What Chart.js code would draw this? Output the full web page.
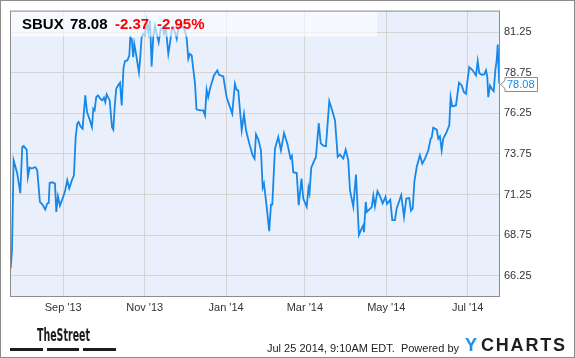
<!DOCTYPE html>
<html>
<head>
<meta charset="utf-8">
<script src="https://cdn.jsdelivr.net/npm/chart.js@4.4.1/dist/chart.umd.min.js"></script>
<style>
  html, body { margin: 0; padding: 0; background: #fff; }
  canvas { display: block; }
</style>
</head>
<body>
<canvas id="chart" width="575" height="358"></canvas>
<script>
// SBUX daily close, Jul 2013 - Jul 25 2014. x = days after Sep 1 2013
const days = [
  -39.4, -38.4, -37.2, -34.5, -32.2, -30.7, -29.7, -27.4, -26.5, -25.2, -23.5, -21.0, -19.5, -17.5, -15.7, -13.5,
  -12.0, -10.9, -10.2, -8.2, -6.2, -5.2, -4.0, -2.5, -0.2, 1.5, 3.0, 4.5, 6.5, 8.0, 9.3, 10.5,
  11.5, 13.0, 14.5, 16.5, 17.8, 20.0, 21.5, 22.5, 23.5, 24.7, 26.0, 27.7, 29.2, 30.5, 31.5, 32.5,
  34.8, 36.5, 37.5, 38.5, 39.7, 41.0, 42.5, 43.8, 45.1, 46.2, 48.0, 49.5, 50.2, 51.3, 52.4, 53.2,
  54.5, 56.7, 57.5, 58.7, 59.9, 61.2, 62.5, 63.7, 65.0, 66.2, 67.4, 68.7, 70.0, 71.5, 73.0, 74.5,
  75.4, 76.9, 78.7, 79.9, 81.2, 82.4, 83.7, 85.0, 86.2, 88.0, 89.5, 91.2, 92.5, 93.7, 94.9, 96.2,
  98.7, 99.8, 102.4, 104.9, 106.2, 107.4, 108.6, 109.9, 112.9, 115.4, 116.7, 119.9, 122.4, 126.6, 128.6, 129.9,
  131.1, 133.7, 135.4, 136.9, 139.4, 141.9, 143.3, 144.4, 146.1, 148.1, 149.4, 150.4, 152.4, 154.3, 155.6, 156.6,
  158.6, 161.1, 163.1, 165.4, 168.0, 170.2, 171.3, 172.3, 174.9, 176.4, 178.5, 179.8, 182.4, 183.7, 184.5, 185.8,
  187.3, 189.3, 191.4, 192.9, 194.8, 196.8, 199.3, 201.1, 203.6, 205.6, 207.3, 209.8, 211.6, 213.5, 214.8, 217.3,
  219.3, 221.5, 223.6, 224.8, 225.3, 226.6, 227.5, 231.1, 232.3, 233.5, 235.4, 237.3, 239.3, 241.4, 242.5, 245.0,
  246.5, 248.5, 249.8, 253.2, 255.3, 257.0, 259.2, 260.5, 261.8, 263.1, 264.8, 267.2, 269.0, 271.0, 273.5, 275.3,
  276.0, 277.2, 279.8, 281.0, 282.2, 283.5, 284.7, 287.2, 289.2, 290.2, 291.4, 294.2, 296.5, 298.5, 300.2, 301.7,
  302.7, 304.2, 306.7, 309.2, 310.5, 311.7, 313.5, 315.4, 316.7, 317.7, 318.4, 319.7, 321.0, 322.5, 323.7, 324.7,
  325.5, 326.6
];
const prices = [
  66.70, 67.83, 73.36, 72.56, 71.33, 74.17, 74.23, 74.01, 72.33, 72.91, 72.85, 72.94, 72.74, 70.79, 70.65, 70.33,
  70.70, 70.73, 71.96, 72.00, 71.92, 70.18, 71.14, 70.57, 71.07, 71.51, 72.13, 71.62, 72.13, 72.43, 74.79, 75.61,
  75.71, 75.44, 75.30, 77.35, 76.32, 75.81, 75.40, 76.53, 76.43, 77.24, 77.35, 77.15, 77.04, 77.21, 76.94, 77.41,
  77.04, 75.40, 75.24, 76.63, 77.76, 77.96, 78.13, 76.73, 79.01, 79.46, 79.50, 79.81, 80.93, 80.83, 79.70, 80.53,
  79.91, 78.76, 79.50, 80.93, 81.14, 81.04, 81.96, 81.24, 81.96, 79.13, 80.93, 81.65, 81.14, 80.62, 81.45, 81.54,
  81.14, 81.45, 79.91, 80.53, 81.34, 81.54, 81.24, 80.83, 81.45, 81.75, 81.54, 81.34, 80.83, 79.60, 79.91, 79.81,
  78.09, 76.49, 76.43, 76.43, 76.12, 77.70, 77.24, 77.76, 78.58, 78.89, 78.62, 78.52, 77.24, 76.23, 78.07, 77.69,
  77.66, 75.20, 76.21, 75.20, 74.38, 73.66, 73.46, 74.95, 74.65, 73.97, 71.67, 71.92, 70.49, 68.99, 70.62, 70.62,
  74.07, 74.79, 73.97, 75.03, 74.34, 73.48, 73.63, 72.62, 72.57, 70.59, 72.23, 71.00, 70.49, 71.65, 71.33, 72.90,
  73.20, 73.56, 75.65, 74.40, 74.25, 74.22, 76.99, 76.53, 75.81, 73.56, 73.71, 73.46, 74.01, 73.36, 71.51, 70.49,
  72.48, 68.75, 69.16, 69.36, 68.93, 70.79, 70.18, 70.47, 71.18, 70.53, 71.46, 71.14, 70.70, 71.10, 70.67, 70.92,
  69.67, 69.67, 70.39, 71.21, 69.87, 71.00, 71.03, 70.25, 70.39, 72.07, 72.94, 73.66, 73.15, 73.46, 73.97, 74.69,
  74.75, 75.36, 75.24, 74.69, 74.83, 73.97, 74.69, 75.09, 75.51, 77.24, 76.67, 76.73, 78.13, 77.96, 77.55, 77.45,
  78.17, 79.09, 78.89, 78.58, 79.46, 78.72, 78.62, 78.64, 78.89, 78.47, 77.24, 77.96, 77.76, 77.61, 78.89, 79.50,
  80.48, 78.08
];

const xTickDays = [0, 61, 122, 181, 242, 303];
const xTickLabels = ["Sep '13", "Nov '13", "Jan '14", "Mar '14", "May '14", "Jul '14"];
const yTicks = [66.25, 68.75, 71.25, 73.75, 76.25, 78.75, 81.25];

const symbol = "SBUX";
const lastPrice = 78.08;
const change = -2.37;
const changePct = -2.95;
const stampText = "Jul 25 2014, 9:10AM EDT.  Powered by";

const FONT = '"Liberation Sans", Arial, sans-serif';
const LINE_BLUE = "#1787e8";
const FRAME = "#8c8c8c";

const decor = {
  id: "decor",
  beforeDraw(chart) {
    const { ctx, chartArea: a } = chart;
    ctx.save();
    ctx.fillStyle = "#fff";
    ctx.fillRect(0, 0, chart.width, chart.height);
    ctx.fillStyle = "#e9f0fb";
    ctx.fillRect(a.left, a.top, a.right - a.left, a.bottom - a.top);
    ctx.restore();
  },
  afterDatasetsDraw(chart) {
    const { ctx, chartArea: a } = chart;
    ctx.save();
    // header box over the plot
    ctx.fillStyle = "rgba(255,255,255,0.6)";
    ctx.fillRect(a.left + 1, a.top + 1, 366, 25);
    ctx.font = "bold 15px " + FONT;
    ctx.textBaseline = "alphabetic";
    ctx.fillStyle = "#000";
    ctx.fillText(symbol, 22, 29);
    ctx.fillText(lastPrice.toFixed(2), 70, 29);
    ctx.fillStyle = "#f00";
    ctx.fillText(change.toFixed(2), 115, 29);
    ctx.fillText(changePct.toFixed(2) + "%", 157, 29);
    // plot frame
    ctx.strokeStyle = FRAME;
    ctx.lineWidth = 1;
    ctx.strokeRect(a.left + 0.5, a.top + 0.5, a.right - a.left - 1, a.bottom - a.top);
    ctx.restore();
  },
  afterDraw(chart) {
    const { ctx, chartArea: a } = chart;
    const y = chart.scales.y;
    ctx.save();

    // last value flag
    const py = Math.round(y.getPixelForValue(lastPrice)) + 0.5;
    ctx.beginPath();
    ctx.moveTo(a.right + 0.5, py);
    ctx.lineTo(a.right + 5, py - 4);
    ctx.lineTo(a.right + 5, py - 7);
    ctx.lineTo(a.right + 37.5, py - 7);
    ctx.lineTo(a.right + 37.5, py + 7);
    ctx.lineTo(a.right + 5, py + 7);
    ctx.lineTo(a.right + 5, py + 4);
    ctx.closePath();
    ctx.fillStyle = "#fff";
    ctx.fill();
    ctx.strokeStyle = FRAME;
    ctx.stroke();
    ctx.font = "11px " + FONT;
    ctx.fillStyle = LINE_BLUE;
    ctx.textBaseline = "middle";
    ctx.fillText(lastPrice.toFixed(2), a.right + 7, py + 0.5);

    // TheStreet logo
    ctx.textBaseline = "alphabetic";
    ctx.fillStyle = "#1c1c1c";
    ctx.font = 'bold 17px "DejaVu Sans Condensed", "DejaVu Sans", sans-serif';
    const tw = ctx.measureText("TheStreet").width;
    ctx.save();
    ctx.translate(37, 341);
    ctx.scale(53 / tw, 1);
    ctx.fillText("TheStreet", 0, 0);
    ctx.restore();
    ctx.fillRect(10, 348, 33, 3);
    ctx.fillRect(47, 348, 32, 3);
    ctx.fillRect(83, 348, 33, 3);

    // timestamp + YCharts
    ctx.font = "11px " + FONT;
    ctx.fillStyle = "#222";
    ctx.textAlign = "right";
    ctx.fillText(stampText, 459, 352);
    ctx.textAlign = "left";
    ctx.font = "bold 18px " + FONT;
    ctx.fillStyle = "#1e90e8";
    ctx.fillText("Y", 465, 351);
    ctx.fillStyle = "#1e1e1e";
    const letters = "CHARTS".split("");
    const natural = letters.reduce((s, c) => s + ctx.measureText(c).width, 0);
    const gap = (84 - natural) / (letters.length - 1);
    let lx = 481;
    letters.forEach((c) => {
      ctx.fillText(c, lx, 351);
      lx += ctx.measureText(c).width + gap;
    });

    // outer frame
    ctx.strokeStyle = FRAME;
    ctx.strokeRect(0.5, 0.5, chart.width - 1, chart.height - 1);
    ctx.restore();
  }
};

new Chart(document.getElementById("chart"), {
  type: "line",
  data: {
    datasets: [{
      data: days.map((d, i) => ({ x: d, y: prices[i] })),
      borderColor: LINE_BLUE,
      borderWidth: 1.8,
      pointRadius: 0,
      tension: 0,
      fill: false
    }]
  },
  options: {
    responsive: false,
    animation: false,
    devicePixelRatio: 1,
    layout: { padding: { left: 10, top: 10, right: 0, bottom: 0 } },
    plugins: { legend: { display: false }, tooltip: { enabled: false } },
    scales: {
      x: {
        type: "linear",
        min: -39.9,
        max: 327.2,
        afterBuildTicks: (s) => { s.ticks = xTickDays.map((v) => ({ value: v })); },
        afterFit: (s) => { s.height = 62; },
        grid: { color: "#d4d4d4", drawTicks: false },
        border: { display: false },
        ticks: {
          autoSkip: false,
          maxRotation: 0,
          padding: 5,
          color: "#333",
          font: { family: FONT, size: 11 },
          callback: (v, i) => xTickLabels[i]
        }
      },
      y: {
        position: "right",
        min: 65.0,
        max: 82.57,
        afterBuildTicks: (s) => { s.ticks = yTicks.map((v) => ({ value: v })); },
        afterFit: (s) => { s.width = 75; },
        grid: { color: "#d4d4d4", drawTicks: false },
        border: { display: false },
        ticks: {
          padding: 4,
          color: "#333",
          font: { family: FONT, size: 11 },
          callback: (v) => v.toFixed(2)
        }
      }
    }
  },
  plugins: [decor]
});
</script>
</body>
</html>
